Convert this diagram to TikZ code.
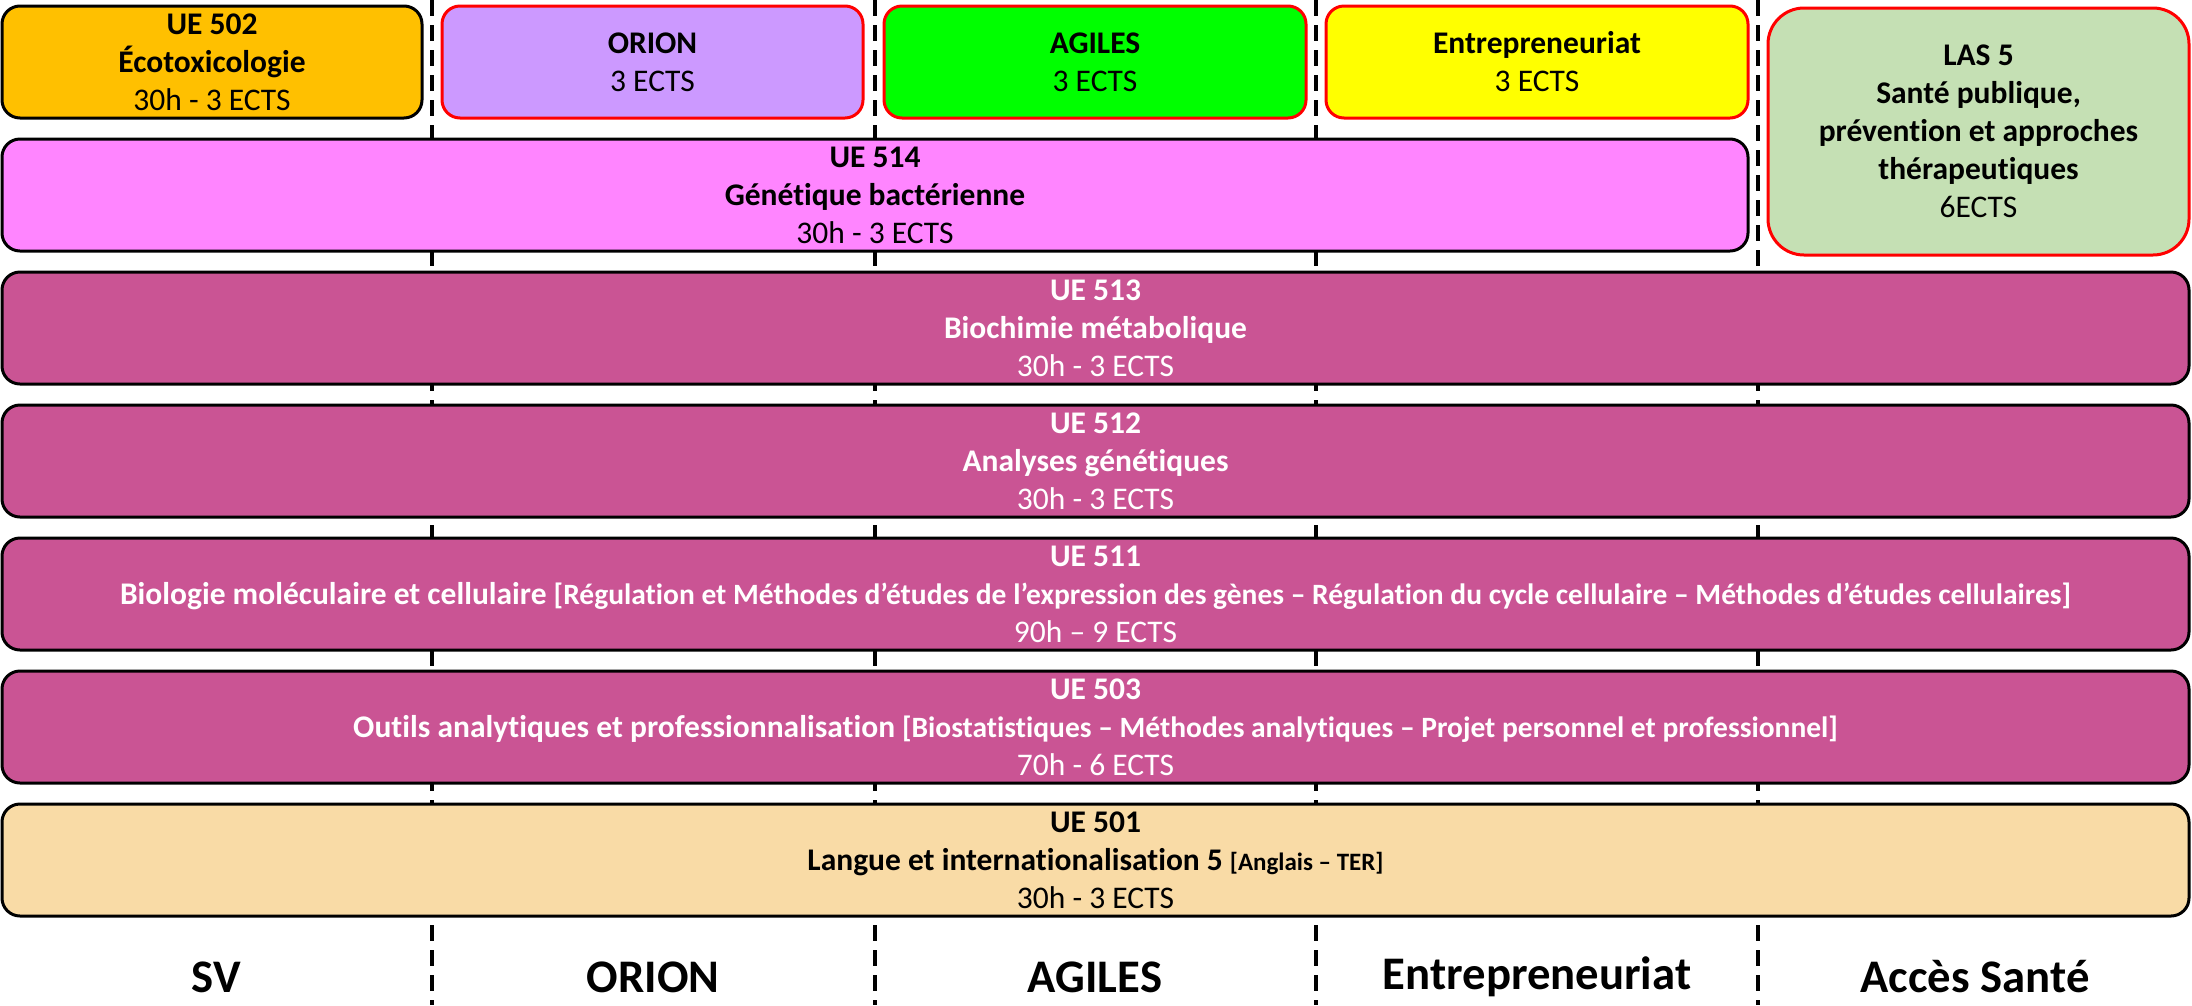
\documentclass[tikz,border=0pt]{standalone}
\usepackage{fontspec}
\setmainfont{Carlito}[Ligatures=NoCommon]
\definecolor{uemag}{HTML}{CA5494}
\definecolor{ue502c}{HTML}{FFC000}
\definecolor{orionc}{HTML}{CC99FF}
\definecolor{agilesc}{HTML}{00FF00}
\definecolor{entrec}{HTML}{FFFF00}
\definecolor{lasc}{HTML}{C5E0B4}
\definecolor{ue514c}{HTML}{FF85FF}
\definecolor{ue501c}{HTML}{F9DBA6}
\newcommand{\brk}[1]{{\fontsize{29.5}{38}\selectfont #1}}
\begin{document}
\begin{tikzpicture}[x=1pt,y=-1pt,
  box/.style={draw=black, line width=3pt, rounded corners=18pt, inner sep=0pt, outer sep=0pt,
    align=center, font=\fontsize{31.5}{38}\selectfont},
  redbox/.style={box, draw=red},
  magbox/.style={box, fill=uemag, text=white, minimum width=2187pt, minimum height=112pt},
  sepline/.style={line width=3.5pt, dash pattern=on 16pt off 9pt},
  lab/.style={font=\fontsize{46.7}{56}\selectfont\bfseries, inner sep=0pt}]
\fill[white] (0,0) rectangle (2192,1005);
\useasboundingbox (0,0) rectangle (2192,1005);
% separators
\foreach \i/\xx in {1/432,2/875,3/1316,4/1758}{
  \coordinate (s\i t) at (\xx,0);
  \coordinate (s\i b) at (\xx,1005);
  \draw[sepline] (s\i t) -- (s\i b);
}
% top row
\node[box, fill=ue502c, minimum width=420pt, minimum height=112pt] (ue502) at (212,62)
  {\textbf{UE 502}\\\textbf{Écotoxicologie}\\30h - 3 ECTS};
\node[redbox, fill=orionc, minimum width=421pt, minimum height=112pt] (orion) at (652.5,62)
  {\textbf{ORION}\\3 ECTS};
\node[redbox, fill=agilesc, minimum width=422pt, minimum height=112pt] (agiles) at (1095,62)
  {\textbf{AGILES}\\3 ECTS};
\node[redbox, fill=entrec, minimum width=422pt, minimum height=112pt] (entre) at (1537,62)
  {\textbf{Entrepreneuriat}\\3 ECTS};
\node[redbox, fill=lasc, rounded corners=36pt, minimum width=421pt, minimum height=247pt] (las) at (1978.5,131.5)
  {\textbf{LAS 5}\\\textbf{Santé publique,}\\\textbf{prévention et approches}\\\textbf{thérapeutiques}\\6ECTS};
% UE 514
\node[box, fill=ue514c, minimum width=1746pt, minimum height=112pt] (ue514) at (875,195)
  {\textbf{UE 514}\\\textbf{Génétique bactérienne}\\30h - 3 ECTS};
% magenta rows
\node[magbox] (ue513) at (1095.5,328)
  {\textbf{UE 513}\\\textbf{Biochimie métabolique}\\30h - 3 ECTS};
\node[magbox] (ue512) at (1095.5,461)
  {\textbf{UE 512}\\\textbf{Analyses génétiques}\\30h - 3 ECTS};
\node[magbox] (ue511) at (1095.5,594)
  {\textbf{UE 511}\\\textbf{Biologie moléculaire et cellulaire \brk{[Régulation et Méthodes d’études de l’expression des gènes – Régulation du cycle cellulaire – Méthodes d’études cellulaires]}}\\90h – 9 ECTS};
\node[magbox] (ue503) at (1095.5,727)
  {\textbf{UE 503}\\\textbf{Outils analytiques et professionnalisation \brk{[Biostatistiques – Méthodes analytiques – Projet personnel et professionnel]}}\\70h - 6 ECTS};
\node[box, fill=ue501c, minimum width=2187pt, minimum height=112pt] (ue501) at (1095.5,860)
  {\textbf{UE 501}\\\textbf{Langue et internationalisation 5 {\fontsize{25}{38}\selectfont[Anglais – TER]}}\\30h - 3 ECTS};
% bottom labels
\node[lab] (lsv) at (216,977) {SV};
\node[lab] (lorion) at (653,977) {ORION};
\node[lab] (lagiles) at (1095,977) {AGILES};
\node[lab] (lentre) at (1537,977) {Entrepreneuriat};
\node[lab] (lsante) at (1975,977) {Accès Santé};
\end{tikzpicture}
\end{document}
